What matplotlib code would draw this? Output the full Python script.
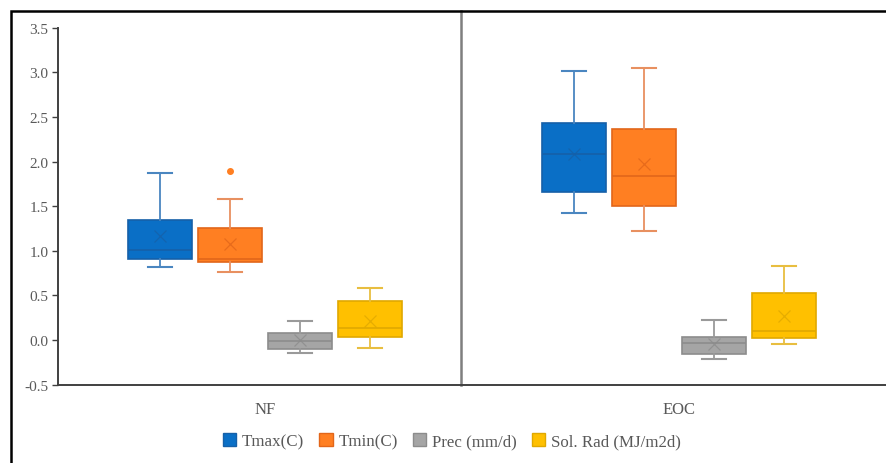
import matplotlib
matplotlib.use("Agg")
import matplotlib.pyplot as plt
from matplotlib.patches import Rectangle, Patch

# Scenario groups and climate variables
groups = ["NF", "EOC"]
variables = ["Tmax(C)", "Tmin(C)", "Prec (mm/d)", "Sol. Rad (MJ/m2d)"]

# Five-number summaries per group (entries follow `variables`):
# whisker low, Q1, median, Q3, whisker high, mean
nf_low = [0.82, 0.76, -0.15, -0.09]
nf_q1 = [0.91, 0.87, -0.10, 0.04]
nf_med = [1.01, 0.91, -0.01, 0.13]
nf_q3 = [1.34, 1.26, 0.08, 0.44]
nf_high = [1.87, 1.58, 0.21, 0.58]
nf_mean = [1.17, 1.08, 0.00, 0.21]
nf_fliers = [[], [1.90], [], []]

eoc_low = [1.42, 1.22, -0.21, -0.04]
eoc_q1 = [1.66, 1.50, -0.16, 0.02]
eoc_med = [2.08, 1.84, -0.03, 0.10]
eoc_q3 = [2.43, 2.37, 0.04, 0.53]
eoc_high = [3.01, 3.05, 0.23, 0.83]
eoc_mean = [2.08, 1.97, -0.04, 0.27]
eoc_fliers = [[], [], [], []]

fill_colors = ["#0A6FC6", "#FF7F22", "#A5A5A5", "#FFC000"]
edge_colors = ["#1660A8", "#E2661A", "#8C8C8C", "#E0A800"]
whisker_colors = ["#4A86C0", "#E89060", "#9A9A9A", "#E8BE40"]
text_color = "#595959"

plt.rcParams["font.family"] = ["Liberation Serif", "DejaVu Serif"]

fig = plt.figure(figsize=(8.86, 4.64), dpi=100)
ax = fig.add_axes([58 / 886, 1 - 385.7 / 464, 1 - 58 / 886, (385.7 - 28.7) / 464])

summaries = [
    (nf_low, nf_q1, nf_med, nf_q3, nf_high, nf_mean, nf_fliers),
    (eoc_low, eoc_q1, eoc_med, eoc_q3, eoc_high, eoc_mean, eoc_fliers),
]

step = 0.169
width = 0.154
for gi, (lo, q1, med, q3, hi, mean, fl) in enumerate(summaries):
    for vi in range(len(variables)):
        pos = gi + (vi - 1.5) * step
        stats = [dict(whislo=lo[vi], q1=q1[vi], med=med[vi], q3=q3[vi],
                      whishi=hi[vi], mean=mean[vi], fliers=fl[vi])]
        ax.bxp(
            stats, positions=[pos], widths=width, patch_artist=True,
            showmeans=True, showfliers=True, manage_ticks=False,
            boxprops=dict(facecolor=fill_colors[vi], edgecolor=edge_colors[vi], linewidth=1.2),
            medianprops=dict(color=edge_colors[vi], linewidth=1.2),
            whiskerprops=dict(color=whisker_colors[vi], linewidth=1.3),
            capprops=dict(color=whisker_colors[vi], linewidth=1.5),
            capwidths=width * 0.38,
            meanprops=dict(marker="x", markeredgecolor=edge_colors[vi],
                           markersize=9, markeredgewidth=0.9, alpha=0.8),
            flierprops=dict(marker="o", markerfacecolor=fill_colors[vi],
                            markeredgecolor=fill_colors[vi], markersize=4),
        )

ax.set_xlim(-0.5, 1.5)
ax.set_ylim(-0.5, 3.5)
ax.set_yticks([-0.5, 0.0, 0.5, 1.0, 1.5, 2.0, 2.5, 3.0, 3.5])
ax.set_yticklabels([f"{v:.1f}" for v in ax.get_yticks()])
ax.set_xticks([0, 1])
ax.set_xticklabels(groups)
ax.tick_params(axis="x", length=0, pad=12, labelsize=12, colors=text_color)
ax.tick_params(axis="y", length=4, width=1, color="#404040", pad=3,
               labelsize=11, labelcolor=text_color)

for side in ("top", "right"):
    ax.spines[side].set_visible(False)
for side in ("left", "bottom"):
    ax.spines[side].set_color("#404040")
    ax.spines[side].set_linewidth(1.4)

# Separator between the two scenario groups, reaching up to the frame
sep_x = 0.4735
ax.plot([sep_x, sep_x], [-0.5, 3.5 + 16.5 / 89.25], color="#7F7F7F",
        linewidth=1.8, clip_on=False)

# Outer frame around the whole chart
fig.patches.append(Rectangle((11 / 886, -0.05), 1.2, 1 - 12 / 464 + 0.05,
                             transform=fig.transFigure, fill=False,
                             edgecolor="black", linewidth=1.8))

handles = [Patch(facecolor=fill_colors[i], edgecolor=edge_colors[i], label=variables[i])
           for i in range(len(variables))]
fig.legend(handles=handles, loc="center", bbox_to_anchor=(452 / 886, 1 - 442 / 464),
           ncol=4, frameon=False, fontsize=12.2, handlelength=0.78, handleheight=0.78,
           handletextpad=0.35, columnspacing=0.9, labelcolor=text_color)

fig.savefig("out.png", dpi=100)
